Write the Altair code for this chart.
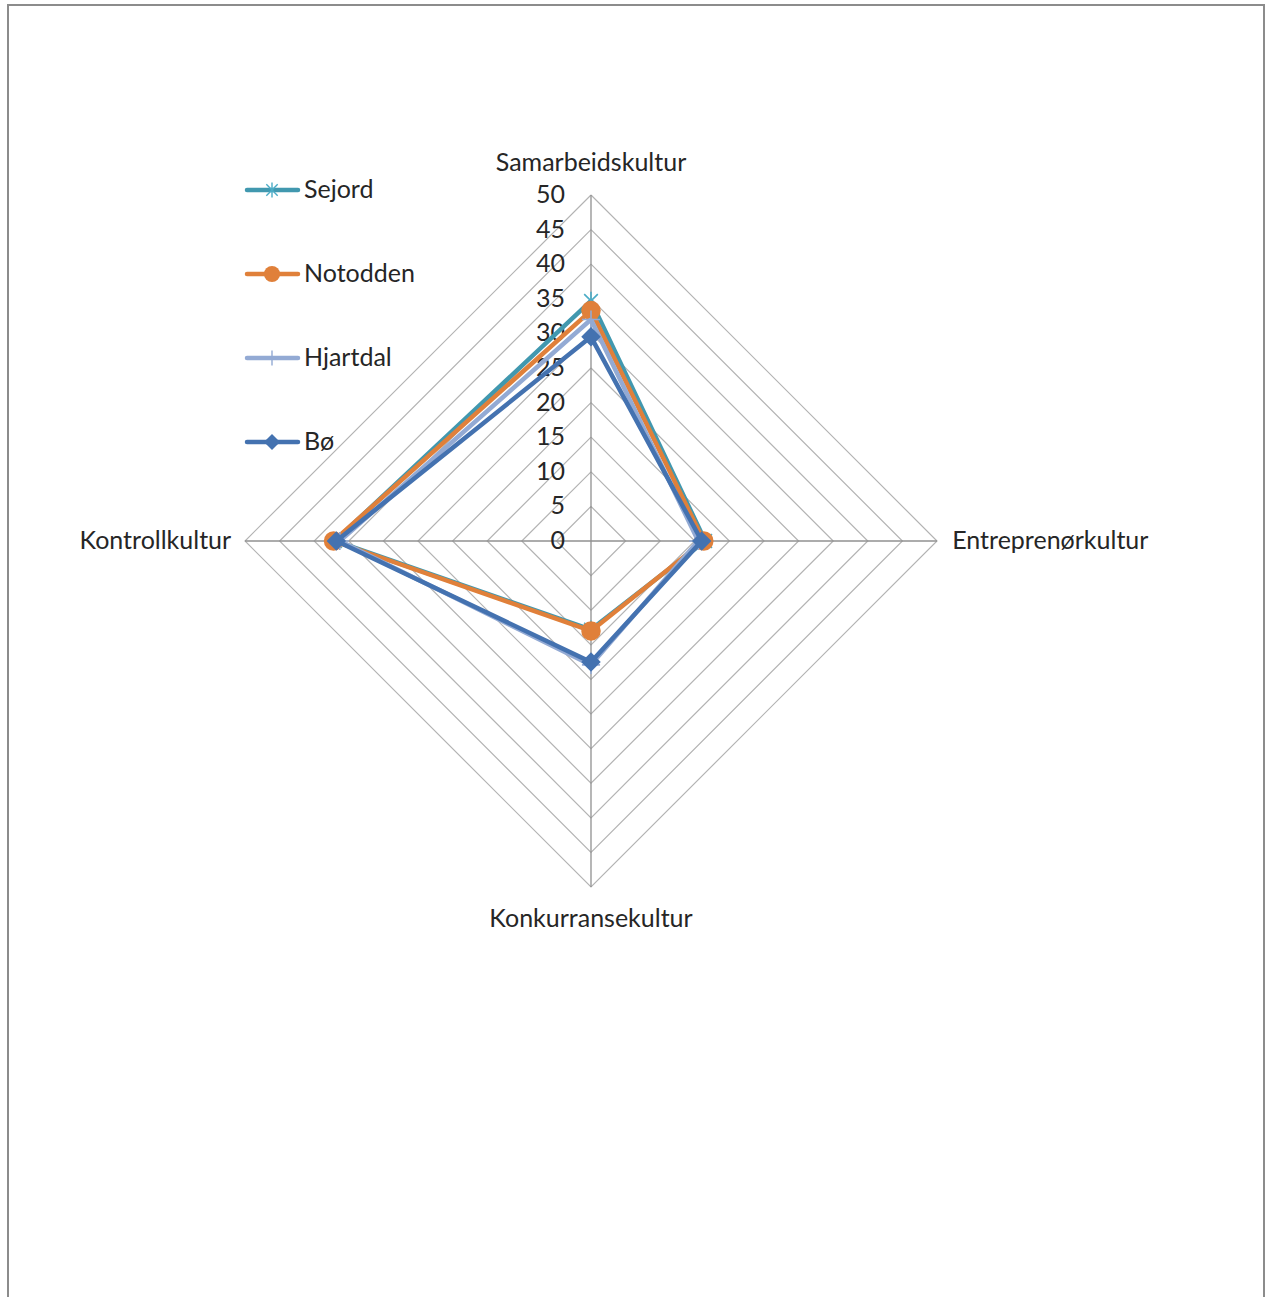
import altair as alt
import pandas as pd

# Culture dimensions, clockwise from the top
categories = ["Samarbeidskultur", "Entreprenørkultur", "Konkurransekultur", "Kontrollkultur"]
angles = [0, 90, 180, 270]

series = ["Sejord", "Notodden", "Hjartdal", "Bø"]
sejord = [34.7, 16.5, 12.8, 37.0]
notodden = [33.3, 16.3, 13.0, 37.2]
hjartdal = [32.0, 15.5, 17.9, 36.3]
bo = [29.5, 16.0, 17.5, 36.8]
values = {"Sejord": sejord, "Notodden": notodden, "Hjartdal": hjartdal, "Bø": bo}

ticks = [0, 5, 10, 15, 20, 25, 30, 35, 40, 45, 50]
rings = ticks[1:]

colors = ["#4198AF", "#E0803A", "#93AAD4", "#4472B0"]
marker_colors = ["#4BACC6", "#E0803A", "#93AAD4", "#4472B0"]

FONT = "Lato"
SIZE = 25
W = H = 692

# Series table, each polygon closed by repeating its first vertex
rows = []
for s in series:
    for k in range(len(categories) + 1):
        i = k % len(categories)
        rows.append({"series": s, "order": k, "category": categories[i],
                     "angle": angles[i], "value": values[s][i], "vertex": k < len(categories)})
df = pd.DataFrame(rows)

ring_df = pd.DataFrame([{"ring": r, "order": k, "angle": angles[k % 4], "value": r}
                        for r in rings for k in range(5)])
spoke_df = pd.DataFrame({"angle": angles, "value": [ticks[-1]] * 4})
tick_df = pd.DataFrame({"value": ticks, "label": [str(t) for t in ticks]})
cat_df = pd.DataFrame({"category": categories, "angle": angles})
legend_df = pd.DataFrame({"series": series, "row": list(range(len(series)))})

xs = alt.Scale(domain=[-50, 50], range=[0, W])
ys = alt.Scale(domain=[-50, 50], range=[H, 0])

def polar(chart):
    return chart.transform_calculate(
        px="datum.value * sin(datum.angle * PI / 180)",
        py="datum.value * cos(datum.angle * PI / 180)",
    )

X = alt.X("px:Q", scale=xs, axis=None)
Y = alt.Y("py:Q", scale=ys, axis=None)

frame = alt.Chart(pd.DataFrame({"a": [0]})).mark_rect(
    filled=False, stroke="#8C8C8C", strokeWidth=2, clip=False
).encode(x=alt.value(-237), x2=alt.value(1019), y=alt.value(-190), y2=alt.value(1120))

ring_layer = polar(alt.Chart(ring_df)).mark_line(color="#B3B3B3", strokeWidth=1.2).encode(
    x=X, y=Y, detail="ring:N", order="order:Q")

spokes = polar(alt.Chart(spoke_df)).transform_calculate(zx="0", zy="0").mark_rule(
    color="#909090", strokeWidth=1.3).encode(
    x=alt.X("zx:Q", scale=xs, axis=None), y=alt.Y("zy:Q", scale=ys, axis=None),
    x2="px:Q", y2="py:Q")

tick_text = alt.Chart(tick_df).transform_calculate(zx="0").mark_text(
    align="right", baseline="middle", dx=-26, font=FONT, fontSize=SIZE, color="#262626"
).encode(x=alt.X("zx:Q", scale=xs, axis=None), y=alt.Y("value:Q", scale=ys, axis=None),
         text="label:N")

# Category labels, split by alignment
def cat_label(angle_list, align, dist_x, dist_y):
    d = cat_df[cat_df["angle"].isin(angle_list)]
    return alt.Chart(d).transform_calculate(
        lx=f"sin(datum.angle * PI / 180) * {dist_x}",
        ly=f"cos(datum.angle * PI / 180) * {dist_y}",
    ).mark_text(align=align, baseline="middle", font=FONT, fontSize=SIZE, color="#262626").encode(
        x=alt.X("lx:Q", scale=xs, axis=None), y=alt.Y("ly:Q", scale=ys, axis=None),
        text="category:N")

cat_layers = [cat_label([0, 180], "center", 0, 54.6),
              cat_label([90], "left", 52.2, 0),
              cat_label([270], "right", 52.0, 0)]

star = "M-0.75,-0.75L0.75,0.75M-0.75,0.75L0.75,-0.75M0,-1L0,1"
plus = "M-1,0L1,0M0,-1L0,1"
shapes = {"Sejord": star, "Notodden": "circle", "Hjartdal": plus, "Bø": "diamond"}

series_layers = []
for s, c, mc in zip(series, colors, marker_colors):
    d = df[df["series"] == s]
    line = polar(alt.Chart(d)).mark_line(color=c, strokeWidth=4.5, strokeJoin="round").encode(
        x=X, y=Y, order="order:Q")
    filled = shapes[s] in ("circle", "diamond")
    pts = polar(alt.Chart(d[d["vertex"]])).mark_point(
        shape=shapes[s], filled=filled, opacity=1,
        size=380 if filled else 330,
        color=mc, strokeWidth=1.6,
    ).encode(x=X, y=Y)
    series_layers += [line, pts]

# Legend block in the upper left
ly = alt.Y("row:Q", scale=alt.Scale(domain=[0, 3], range=[-5, 247]), axis=None)
cscale = alt.Scale(domain=series, range=colors)
legend_lines = alt.Chart(legend_df).mark_rule(strokeWidth=4.5, strokeCap="round").encode(
    x=alt.value(2), x2=alt.value(53), y=ly, color=alt.Color("series:N", scale=cscale, legend=None))
legend_marks = []
for s, mc in zip(series, marker_colors):
    filled = shapes[s] in ("circle", "diamond")
    legend_marks.append(alt.Chart(legend_df[legend_df["series"] == s]).mark_point(
        shape=shapes[s], filled=filled, opacity=1, size=260 if filled else 230,
        color=mc, strokeWidth=1.4).encode(x=alt.value(27), y=ly))
legend_text = alt.Chart(legend_df).mark_text(
    align="left", baseline="middle", font=FONT, fontSize=SIZE, color="#262626"
).encode(x=alt.value(59), y=ly, text="series:N")

chart = alt.layer(
    frame, ring_layer, spokes, tick_text, *cat_layers, *series_layers,
    legend_lines, *legend_marks, legend_text,
).resolve_scale(y="independent", color="independent").properties(
    width=W, height=H,
    padding={"left": 245, "top": 195, "right": 329, "bottom": 410},
    autosize=alt.AutoSizeParams(type="none"),
    background="white",
).configure_view(stroke=None)

chart.save("out.html", embed_options={"renderer": "svg", "actions": False})
